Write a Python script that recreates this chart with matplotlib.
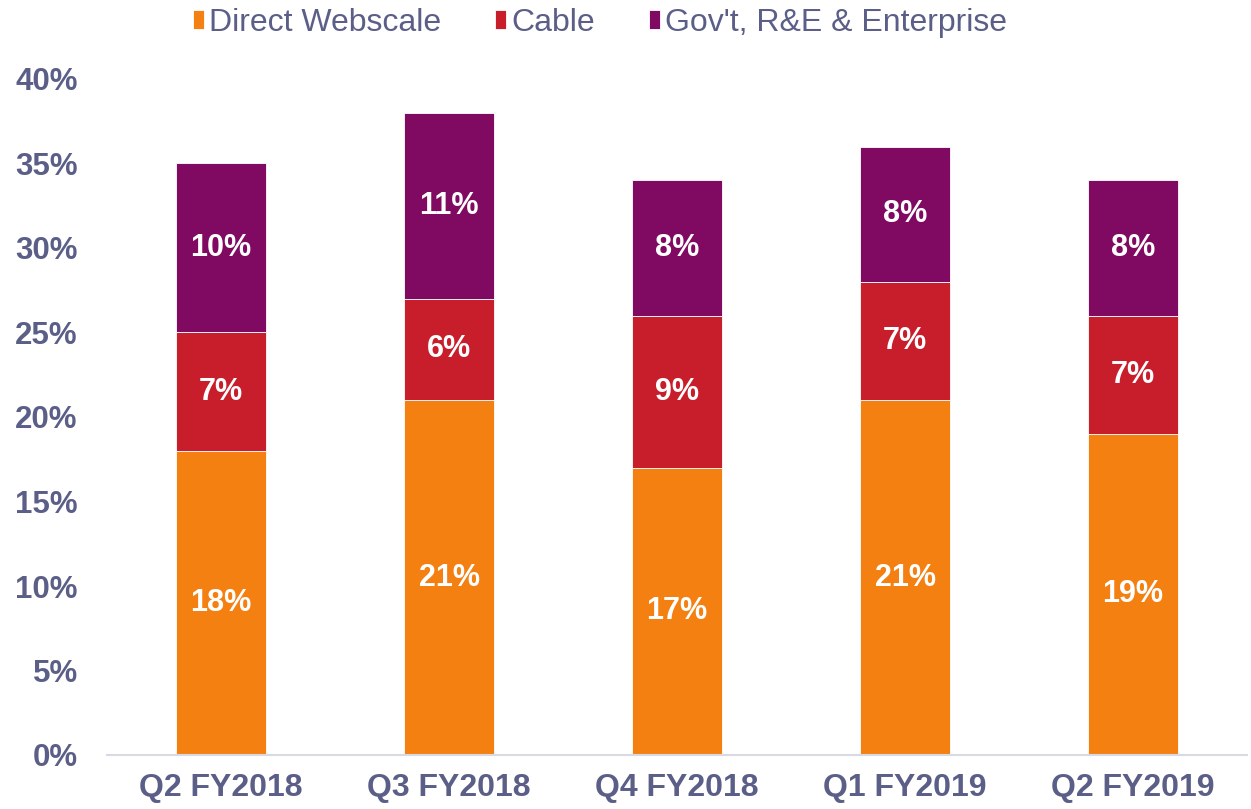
import matplotlib
matplotlib.use("Agg")
import matplotlib.pyplot as plt
import numpy as np

categories = ["Q2 FY2018", "Q3 FY2018", "Q4 FY2018", "Q1 FY2019", "Q2 FY2019"]
direct_webscale = [18, 21, 17, 21, 19]
cable = [7, 6, 9, 7, 7]
govt_re_ent = [10, 11, 8, 8, 8]
series_names = ["Direct Webscale", "Cable", "Gov't, R&E & Enterprise"]
yticks = [0, 5, 10, 15, 20, 25, 30, 35, 40]

colors = ["#F58012", "#C81D2B", "#800A62"]
text_color = "#5B5F87"

plt.rcParams['font.family'] = ['Liberation Sans', 'DejaVu Sans']

fig = plt.figure(figsize=(12.51, 8.09), dpi=100)
ax = fig.add_axes([107/1251, 1-755/809, 1140/1251, (755-79)/809])

x = np.arange(len(categories))
w = 0.395
bottom = np.zeros(len(categories))
handles = []
for vals, c, name in zip([direct_webscale, cable, govt_re_ent], colors, series_names):
    bars = ax.bar(x, vals, w, bottom=bottom, color=c, label=name, edgecolor='white', linewidth=0.6)
    handles.append(bars)
    for xi, b, v in zip(x, bottom, vals):
        ax.text(xi, b + v/2, f"{v}%", ha='center', va='center', color='white',
                fontsize=22, fontweight='bold')
    bottom = bottom + np.array(vals)

ax.set_xlim(-0.5, len(categories) - 0.5)
ax.set_ylim(0, 40)
ax.set_yticks(yticks)
ax.set_yticklabels([f"{t}%" for t in yticks], fontsize=22.5, fontweight='bold', color=text_color)
ax.set_xticks(x)
ax.set_xticklabels(categories, fontsize=23, fontweight='bold', color=text_color)
ax.tick_params(axis='both', length=0)
ax.tick_params(axis='y', pad=21)
ax.tick_params(axis='x', pad=13)
for s in ['top', 'right', 'left']:
    ax.spines[s].set_visible(False)
ax.spines['bottom'].set_color('#D9D9E3')
ax.spines['bottom'].set_linewidth(1.5)

leg = fig.legend(handles=handles, labels=series_names, loc='center', ncol=3,
                 bbox_to_anchor=(600/1251, 1-23/809), frameon=False,
                 fontsize=23, handlelength=0.35, handleheight=0.55, handletextpad=0.15,
                 columnspacing=1.7)
for t in leg.get_texts():
    t.set_color(text_color)

fig.savefig("out.png", dpi=100)
